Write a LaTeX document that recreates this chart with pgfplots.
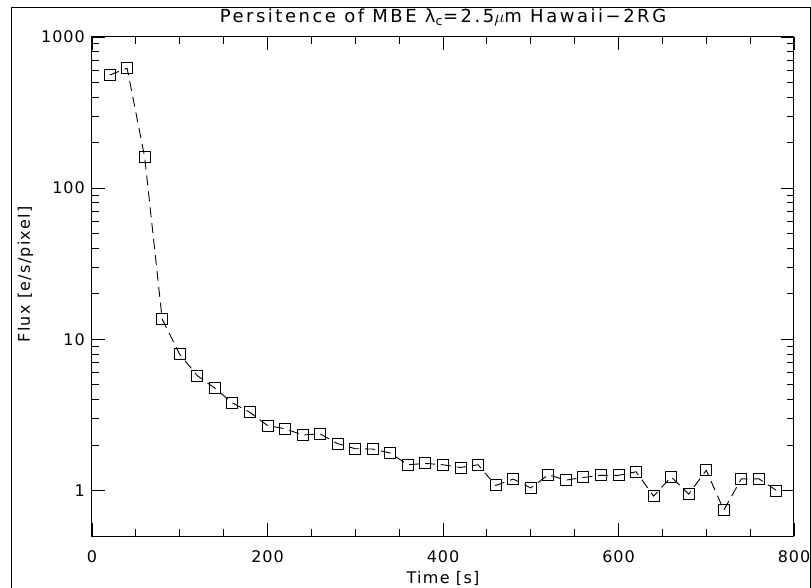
\documentclass[border=0pt]{standalone}
\usepackage{fontspec}
\setmainfont[LetterSpace=6]{DejaVu Sans}
\newfontfamily\titlefont[LetterSpace=14]{DejaVu Sans}
\newfontfamily\labfont[LetterSpace=8]{DejaVu Sans}
\usepackage{pgfplots}
\pgfplotsset{compat=1.18}
\newcommand{\hf}{\fontsize{16}{19}\selectfont}
\begin{document}
\begin{tikzpicture}[x=1pt,y=1pt]
\useasboundingbox (0,0) rectangle (811,587);
\draw[line width=1pt] (11,-10) -- (11,579) -- (810,579) -- (810,-10);
\begin{axis}[
  at={(92pt,51pt)}, anchor=south west, scale only axis,
  width=702pt, height=499pt,
  ymode=log, xmin=0, xmax=800, ymin=0.5, ymax=1000,
  xtick={0,200,400,600,800}, minor x tick num=3,
  ytick={1,10,100,1000}, yticklabels={1,10,100,1000},
  /pgf/number format/assume math mode=true,
  axis line style={line width=1pt},
  tick style={black, line width=0.9pt},
  major tick length=13pt, minor tick length=7pt,
  xticklabel style={font=\hf, anchor=base, inner sep=0pt, yshift=-26pt},
  yticklabel style={font=\hf, anchor=east, inner sep=0pt, xshift=-7pt},
  title={Persitence of MBE λ\textsubscript{c}=2.5$\mu$m Hawaii−2RG},
  title style={font=\titlefont\fontsize{18}{21}\selectfont, at={([yshift=8pt]axis description cs:0.5,1)}, anchor=base, inner sep=0pt},
  xlabel={Time [s]},
  xlabel style={font=\labfont\fontsize{16}{19}\selectfont, at={([yshift=-47pt]axis description cs:0.5,0)}, anchor=base, inner sep=0pt},
  ylabel={Flux [e/s/pixel]},
  ylabel style={font=\labfont\fontsize{16}{19}\selectfont, at={([xshift=-62pt,yshift=12pt]axis description cs:0,0.5)}, anchor=base, inner sep=0pt},
]
\addplot[black, line width=0.9pt, dash pattern=on 10pt off 6pt, mark=square, mark size=5.5pt, mark options={solid}] coordinates {
(20,560) (40,622) (60,161) (80,13.6) (100,7.96) (120,5.75) (140,4.75) (160,3.80) (180,3.29) (200,2.69)
(220,2.56) (240,2.33) (260,2.37) (280,2.04) (300,1.89) (320,1.88) (340,1.77) (360,1.48) (380,1.51) (400,1.48)
(420,1.42) (440,1.48) (460,1.08) (480,1.19) (500,1.04) (520,1.27) (540,1.17) (560,1.22) (580,1.26) (600,1.26)
(620,1.33) (640,0.918) (660,1.23) (680,0.947) (700,1.36) (720,0.742) (740,1.195) (760,1.195) (780,1.0)
};
\end{axis}
\end{tikzpicture}
\end{document}
